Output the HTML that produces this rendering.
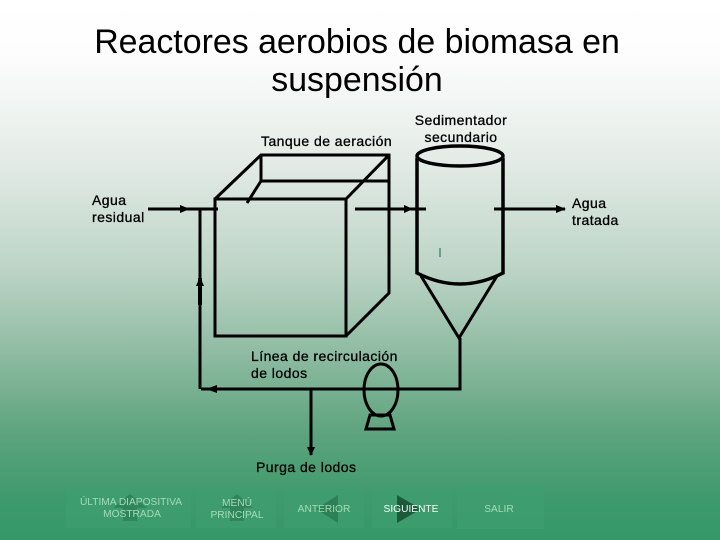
<!DOCTYPE html>
<html><head><meta charset="utf-8"><style>
html,body{margin:0;padding:0}
body{width:720px;height:540px;overflow:hidden;position:relative}
svg{position:absolute;left:0;top:0}
text{font-family:"Liberation Sans",sans-serif}
.l{font-size:14px;font-weight:400;fill:#000;stroke:#000;stroke-width:.3px;letter-spacing:.45px}
.n{font-size:10.2px;fill:#a3dcb4;text-anchor:middle}
</style></head><body>
<svg width="720" height="540" viewBox="0 0 720 540" xmlns="http://www.w3.org/2000/svg">
<defs><linearGradient id="g" x1="0" y1="0" x2="0" y2="1">
<stop offset="0" stop-color="#ffffff"/><stop offset=".1" stop-color="#fdfdfd"/><stop offset=".3" stop-color="#e3ebe6"/><stop offset=".5" stop-color="#bcd4c6"/><stop offset=".65" stop-color="#90bca3"/><stop offset=".8" stop-color="#5ea47e"/><stop offset=".92" stop-color="#3f9a6c"/><stop offset="1" stop-color="#359768"/>
</linearGradient></defs>
<rect width="720" height="540" fill="url(#g)"/>
<text x="357" y="53" font-size="33.9" text-anchor="middle" fill="#000">Reactores aerobios de biomasa en</text>
<text x="357" y="91" font-size="33.9" text-anchor="middle" fill="#000">suspensión</text>
<g fill="none" stroke="#000" stroke-width="3">
<path d="M215 199H346V336H215Z"/>
<path d="M215 199L261 155H389V293L346 336M346 199L389 155M261 155V181H389M261 181L247 203"/>
<path d="M148 209H218M200 209V389M355 209H426M494 209H565"/>
<path d="M201 389H460V338M311 389V455" stroke-width="3"/>
<path d="M417 158V273Q460 295 503 273V158" stroke-width="3.5"/>
<ellipse cx="460" cy="156" rx="43" ry="10" stroke-width="3.5"/>
<path d="M421 276L459 338L497 276"/>
<ellipse cx="381" cy="390" rx="17" ry="26" fill="none"/>
<path d="M370 415L366 429H394L390 415Z"/>
</g>
<path d="M200 278V305" stroke="#000" stroke-width="4"/>
<g fill="#000">
<path d="M180 205L190 209L180 213Z"/>
<path d="M404 205L413 209L404 213Z"/>
<path d="M556 205L566 209L556 213Z"/>
<path d="M200 277L196 286H204Z"/>
<path d="M206 389L217 385V393Z"/>
<path d="M311 456L307 447H315Z"/>
</g>
<rect x="439" y="248" width="2" height="9" fill="#6b9e88"/>
<text class="l" x="261" y="146">Tanque de aeración</text>
<text class="l" x="461" y="125" text-anchor="middle">Sedimentador</text>
<text class="l" x="461" y="142" text-anchor="middle">secundario</text>
<text class="l" x="92" y="205">Agua</text>
<text class="l" x="92" y="222">residual</text>
<text class="l" x="572" y="208">Agua</text>
<text class="l" x="572" y="225">tratada</text>
<text class="l" x="251" y="361">Línea de recirculación</text>
<text class="l" x="251" y="378">de lodos</text>
<text class="l" x="256" y="472">Purga de lodos</text>
<g fill="#3f9e70" opacity=".7">
<rect x="66" y="488" width="125" height="40"/>
<rect x="196" y="488" width="80" height="40"/>
<rect x="284" y="490" width="80" height="38"/>
<rect x="372" y="490" width="80" height="38"/>
<rect x="457" y="487" width="87" height="42"/>
</g>
<path d="M130 494L147 508H137V521H123V508H113Z" fill="#2e7d56" opacity=".75"/>
<path d="M237 494L253 508H244V521H230V508H221Z" fill="#2e7d56" opacity=".75"/>
<path d="M338 495V523L316 509Z" fill="#2a7a53" opacity=".85"/>
<path d="M397 495V523L421 509Z" fill="#1d5a3c"/>
<text class="n" x="131" y="505">ÚLTIMA DIAPOSITIVA</text>
<text class="n" x="132" y="517">MOSTRADA</text>
<text class="n" x="237" y="506">MENÚ</text>
<text class="n" x="237" y="518">PRINCIPAL</text>
<text class="n" x="324" y="512">ANTERIOR</text>
<text class="n" x="411" y="512" style="fill:#f2fff6">SIGUIENTE</text>
<text class="n" x="499" y="512">SALIR</text>
</svg>
</body></html>
